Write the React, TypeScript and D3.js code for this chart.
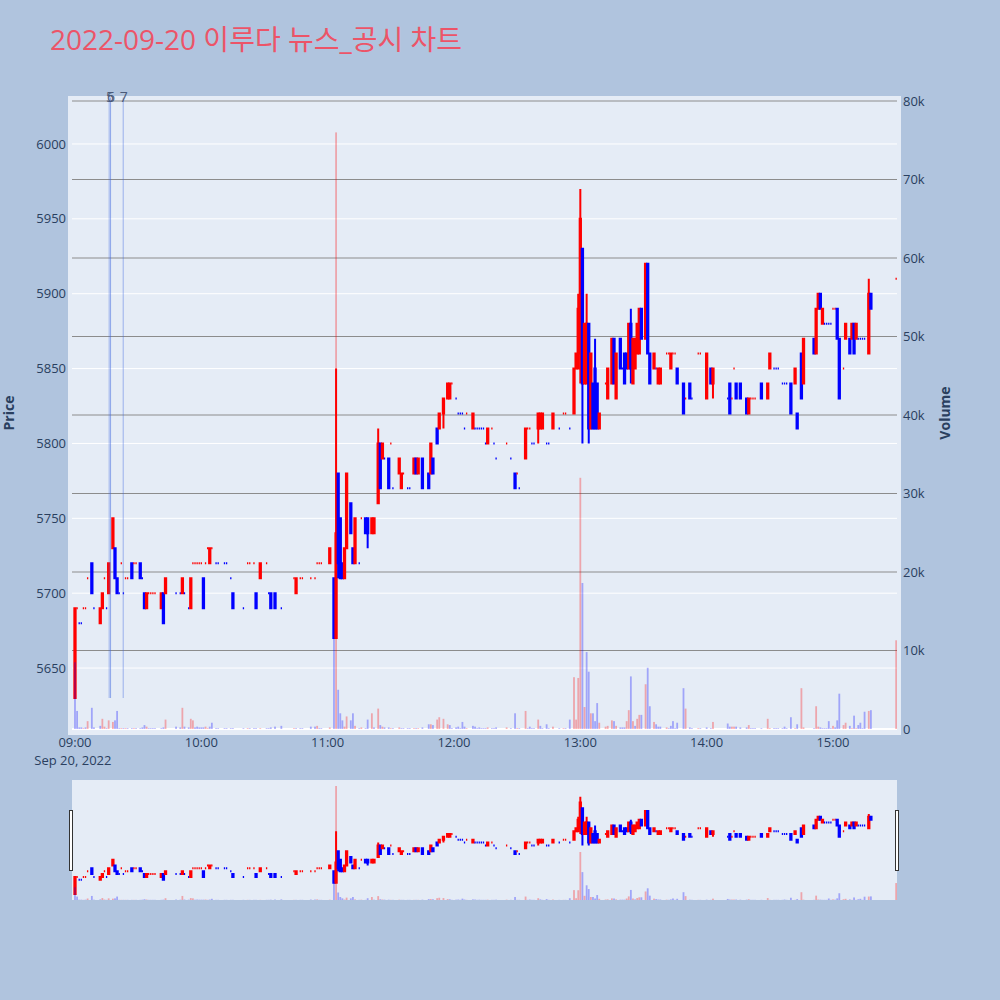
import { useMemo } from 'react';
import * as d3 from 'd3';

// rows: [minutes after 09:00, open, high, low, close, volume]
type Row = [number, number, number, number, number, number];

const session0900: Row[] = [
  [0, 5630, 5690, 5630, 5690, 8500], [1, 5690, 5690, 5690, 5690, 2300], [2, 5680, 5680, 5680, 5680, 200],
  [3, 5680, 5680, 5680, 5680, 200], [4, 5690, 5690, 5690, 5690, 100], [5, 5690, 5690, 5690, 5690, 200],
  [6, 5710, 5710, 5710, 5710, 1000], [8, 5720, 5720, 5700, 5700, 2700], [9, 5690, 5690, 5690, 5690, 200],
  [12, 5680, 5690, 5680, 5690, 400], [13, 5690, 5700, 5690, 5700, 1300], [14, 5710, 5710, 5710, 5710, 300],
  [15, 5690, 5690, 5690, 5690, 100], [16, 5700, 5720, 5700, 5720, 1100], [18, 5730, 5750, 5730, 5750, 900],
  [19, 5730, 5730, 5710, 5710, 1100], [20, 5710, 5710, 5700, 5700, 2300], [21, 5700, 5700, 5700, 5700, 100],
  [22, 5720, 5720, 5720, 5720, 100], [23, 5700, 5700, 5700, 5700, 100], [24, 5710, 5710, 5710, 5710, 100],
  [25, 5710, 5710, 5710, 5710, 100], [27, 5720, 5720, 5710, 5710, 100], [28, 5720, 5720, 5720, 5720, 100],
  [29, 5720, 5720, 5720, 5720, 100], [31, 5720, 5720, 5710, 5710, 100], [32, 5710, 5710, 5710, 5710, 200],
  [33, 5700, 5700, 5690, 5690, 500], [34, 5690, 5700, 5690, 5700, 300], [35, 5700, 5700, 5700, 5700, 100],
  [36, 5700, 5700, 5700, 5700, 100], [37, 5700, 5700, 5700, 5700, 100], [38, 5700, 5700, 5700, 5700, 100],
  [41, 5690, 5700, 5690, 5700, 100], [42, 5700, 5700, 5680, 5680, 200], [43, 5700, 5710, 5700, 5710, 1200],
  [48, 5700, 5700, 5700, 5700, 300], [50, 5700, 5700, 5700, 5700, 200], [51, 5700, 5710, 5700, 5710, 2700],
  [52, 5700, 5700, 5700, 5700, 300], [54, 5690, 5690, 5690, 5690, 200], [55, 5690, 5710, 5690, 5710, 1300],
  [56, 5720, 5720, 5720, 5720, 1100], [57, 5720, 5720, 5720, 5720, 200], [58, 5720, 5720, 5720, 5720, 300],
  [59, 5720, 5720, 5720, 5720, 200],
];

const session1000: Row[] = [
  [60, 5720, 5720, 5720, 5720, 200], [61, 5710, 5710, 5690, 5690, 200], [62, 5720, 5720, 5720, 5720, 300],
  [63, 5730, 5730, 5730, 5730, 100], [64, 5720, 5730, 5720, 5730, 300], [65, 5730, 5730, 5730, 5730, 800],
  [67, 5720, 5720, 5720, 5720, 100], [68, 5720, 5720, 5720, 5720, 100], [71, 5720, 5720, 5720, 5720, 100],
  [72, 5720, 5720, 5720, 5720, 100], [74, 5710, 5710, 5710, 5710, 100], [75, 5700, 5700, 5690, 5690, 100],
  [80, 5690, 5690, 5690, 5690, 100], [82, 5720, 5720, 5720, 5720, 100], [83, 5720, 5720, 5720, 5720, 100],
  [85, 5720, 5720, 5720, 5720, 100], [86, 5700, 5700, 5690, 5690, 100], [88, 5710, 5720, 5710, 5720, 100],
  [91, 5720, 5720, 5720, 5720, 100], [92, 5700, 5700, 5700, 5700, 100], [93, 5700, 5700, 5690, 5690, 200],
  [95, 5700, 5700, 5690, 5690, 300], [98, 5690, 5690, 5690, 5690, 400], [104, 5710, 5710, 5710, 5710, 100],
  [105, 5700, 5710, 5700, 5710, 100], [107, 5710, 5710, 5710, 5710, 100], [108, 5710, 5710, 5710, 5710, 100],
  [112, 5710, 5710, 5710, 5710, 300], [114, 5710, 5710, 5710, 5710, 300], [115, 5720, 5720, 5720, 5720, 400],
  [116, 5720, 5720, 5720, 5720, 100], [117, 5720, 5720, 5720, 5720, 100],
];

const session1100: Row[] = [
  [121, 5720, 5730, 5720, 5730, 200], [123, 5710, 5710, 5670, 5670, 11500], [124, 5670, 5850, 5670, 5740, 76000],
  [125, 5780, 5780, 5710, 5720, 5000], [126, 5750, 5750, 5710, 5710, 2000], [127, 5720, 5720, 5710, 5710, 1100],
  [128, 5710, 5730, 5710, 5730, 300], [129, 5730, 5780, 5730, 5780, 1600], [131, 5760, 5760, 5740, 5740, 1100],
  [132, 5730, 5730, 5720, 5720, 2000], [133, 5720, 5750, 5720, 5750, 400], [135, 5720, 5720, 5720, 5720, 100],
  [136, 5750, 5750, 5750, 5750, 200], [138, 5750, 5750, 5740, 5740, 100], [139, 5750, 5750, 5730, 5740, 1200],
  [141, 5740, 5750, 5740, 5750, 2000], [142, 5740, 5750, 5740, 5750, 200], [144, 5760, 5810, 5760, 5800, 2600],
  [145, 5800, 5800, 5770, 5770, 500], [146, 5790, 5800, 5790, 5800, 300], [147, 5790, 5790, 5790, 5790, 200],
  [149, 5790, 5790, 5770, 5770, 200], [150, 5800, 5800, 5800, 5800, 100], [151, 5770, 5770, 5770, 5770, 100],
  [154, 5780, 5790, 5780, 5790, 200], [155, 5770, 5780, 5770, 5780, 100], [156, 5780, 5780, 5780, 5780, 100],
  [158, 5770, 5770, 5770, 5770, 100], [159, 5770, 5770, 5770, 5770, 100], [161, 5780, 5790, 5780, 5790, 100],
  [162, 5790, 5790, 5780, 5780, 100], [163, 5780, 5790, 5780, 5790, 100], [165, 5790, 5790, 5770, 5770, 200],
  [168, 5780, 5780, 5770, 5770, 600], [169, 5780, 5800, 5780, 5800, 600], [170, 5790, 5790, 5780, 5780, 500],
  [172, 5810, 5810, 5800, 5800, 1200], [173, 5810, 5820, 5810, 5820, 1500], [175, 5820, 5830, 5810, 5830, 1300],
  [177, 5830, 5840, 5830, 5840, 600], [178, 5830, 5840, 5830, 5840, 500], [179, 5840, 5840, 5840, 5840, 100],
];

const session1200: Row[] = [
  [181, 5830, 5830, 5830, 5830, 200], [182, 5820, 5820, 5820, 5820, 300], [183, 5820, 5820, 5820, 5820, 100],
  [184, 5820, 5820, 5820, 5820, 900], [185, 5810, 5810, 5810, 5810, 300], [186, 5820, 5820, 5820, 5820, 100],
  [189, 5810, 5820, 5810, 5820, 400], [190, 5810, 5810, 5810, 5810, 300], [191, 5810, 5810, 5810, 5810, 100],
  [192, 5810, 5810, 5810, 5810, 200], [193, 5810, 5810, 5810, 5810, 100], [194, 5810, 5810, 5810, 5810, 100],
  [195, 5800, 5800, 5800, 5800, 100], [196, 5800, 5810, 5800, 5810, 200], [198, 5810, 5810, 5810, 5810, 100],
  [199, 5800, 5800, 5800, 5800, 100], [200, 5790, 5790, 5790, 5790, 200], [205, 5800, 5800, 5800, 5800, 200],
  [207, 5790, 5790, 5790, 5790, 100], [209, 5780, 5780, 5770, 5770, 2000], [210, 5780, 5780, 5780, 5780, 100],
  [211, 5770, 5770, 5770, 5770, 100], [214, 5790, 5810, 5790, 5810, 2300], [215, 5810, 5810, 5810, 5810, 100],
  [216, 5810, 5810, 5810, 5810, 300], [217, 5800, 5800, 5800, 5800, 100], [218, 5800, 5800, 5800, 5800, 100],
  [220, 5810, 5820, 5800, 5820, 1200], [221, 5810, 5820, 5810, 5820, 400], [222, 5810, 5820, 5810, 5820, 100],
  [224, 5800, 5800, 5800, 5800, 600], [225, 5800, 5800, 5800, 5800, 100], [227, 5810, 5820, 5810, 5820, 300],
  [230, 5810, 5810, 5810, 5810, 100], [232, 5820, 5820, 5820, 5820, 100], [233, 5820, 5820, 5820, 5820, 100],
  [235, 5810, 5810, 5810, 5810, 1200], [237, 5820, 5850, 5820, 5850, 6600], [238, 5850, 5860, 5850, 5860, 1200],
  [239, 5850, 5900, 5850, 5890, 6500],
];

const session1300: Row[] = [
  [240, 5860, 5970, 5840, 5950, 32000], [241, 5930, 5930, 5800, 5840, 18600], [242, 5840, 5880, 5840, 5880, 2800],
  [243, 5840, 5900, 5840, 5880, 9800], [244, 5880, 5880, 5800, 5810, 7300], [245, 5810, 5860, 5810, 5860, 2000],
  [246, 5840, 5840, 5810, 5810, 2000], [247, 5850, 5870, 5810, 5810, 1000], [248, 5840, 5840, 5810, 5810, 3300],
  [249, 5810, 5820, 5810, 5820, 800], [252, 5840, 5840, 5840, 5840, 300], [253, 5830, 5850, 5830, 5850, 400],
  [255, 5840, 5870, 5840, 5870, 1100], [256, 5870, 5870, 5840, 5840, 1000], [257, 5830, 5860, 5830, 5860, 400],
  [259, 5870, 5870, 5850, 5850, 200], [260, 5850, 5850, 5850, 5850, 200], [261, 5860, 5860, 5840, 5840, 200],
  [262, 5860, 5860, 5850, 5850, 1000], [263, 5850, 5880, 5850, 5880, 2400], [264, 5880, 5890, 5840, 5850, 6700],
  [265, 5840, 5870, 5840, 5870, 1000], [266, 5850, 5870, 5850, 5870, 400], [267, 5860, 5880, 5860, 5880, 1300],
  [268, 5860, 5890, 5860, 5890, 1800], [269, 5890, 5890, 5870, 5870, 1800], [271, 5870, 5920, 5870, 5920, 5700],
  [272, 5920, 5920, 5860, 5860, 7800], [273, 5860, 5860, 5840, 5840, 2900], [275, 5850, 5860, 5850, 5860, 900],
  [276, 5850, 5850, 5850, 5850, 600], [277, 5840, 5850, 5840, 5850, 300], [278, 5840, 5850, 5840, 5850, 300],
  [281, 5860, 5860, 5860, 5860, 200], [282, 5860, 5860, 5860, 5860, 100], [283, 5850, 5860, 5850, 5860, 400],
  [284, 5860, 5860, 5860, 5860, 1000], [285, 5860, 5860, 5860, 5860, 100], [286, 5850, 5850, 5840, 5840, 800],
  [289, 5840, 5840, 5820, 5820, 5200], [290, 5830, 5830, 5830, 5830, 2600], [292, 5840, 5840, 5830, 5830, 200],
  [293, 5830, 5830, 5830, 5830, 100], [296, 5860, 5860, 5860, 5860, 100], [297, 5860, 5860, 5860, 5860, 100],
];

const session1400: Row[] = [
  [300, 5830, 5860, 5830, 5860, 200], [302, 5850, 5850, 5840, 5840, 100], [303, 5840, 5850, 5830, 5850, 900],
  [310, 5830, 5830, 5830, 5830, 700], [311, 5840, 5840, 5820, 5820, 300], [312, 5830, 5830, 5830, 5830, 300],
  [313, 5850, 5850, 5850, 5850, 300], [314, 5840, 5840, 5830, 5830, 300], [316, 5840, 5840, 5830, 5830, 200],
  [319, 5830, 5830, 5820, 5820, 200], [320, 5820, 5830, 5820, 5830, 500], [321, 5830, 5830, 5830, 5830, 100],
  [322, 5830, 5830, 5830, 5830, 100], [323, 5830, 5830, 5830, 5830, 100], [326, 5840, 5840, 5830, 5830, 100],
  [329, 5830, 5840, 5830, 5840, 1300], [330, 5850, 5860, 5850, 5860, 100], [332, 5850, 5850, 5850, 5850, 100],
  [333, 5850, 5850, 5850, 5850, 100], [334, 5850, 5850, 5850, 5850, 100], [336, 5840, 5840, 5840, 5840, 100],
  [337, 5840, 5840, 5840, 5840, 300], [338, 5840, 5840, 5840, 5840, 100], [340, 5840, 5840, 5820, 5820, 1500],
  [342, 5840, 5850, 5840, 5850, 100], [343, 5820, 5820, 5810, 5810, 600], [345, 5860, 5860, 5830, 5830, 5200],
  [346, 5840, 5870, 5840, 5870, 200], [351, 5870, 5870, 5860, 5860, 100], [352, 5860, 5890, 5860, 5890, 2900],
  [353, 5890, 5900, 5890, 5900, 300], [354, 5900, 5900, 5890, 5890, 200], [355, 5880, 5890, 5880, 5890, 100],
  [356, 5880, 5880, 5880, 5880, 100], [357, 5880, 5880, 5880, 5880, 100], [358, 5880, 5880, 5880, 5880, 1000],
  [359, 5880, 5880, 5880, 5880, 100],
];

const session1500: Row[] = [
  [360, 5890, 5890, 5890, 5890, 400], [361, 5890, 5890, 5890, 5890, 200], [362, 5890, 5890, 5870, 5870, 1100],
  [363, 5870, 5870, 5830, 5830, 4500], [365, 5850, 5850, 5850, 5850, 500], [366, 5870, 5880, 5870, 5880, 800],
  [368, 5870, 5870, 5860, 5860, 400], [369, 5870, 5880, 5870, 5880, 100], [370, 5880, 5880, 5860, 5860, 1700],
  [371, 5870, 5880, 5870, 5880, 100], [372, 5870, 5870, 5870, 5870, 500], [373, 5870, 5870, 5870, 5870, 800],
  [374, 5870, 5870, 5870, 5870, 100], [375, 5870, 5870, 5870, 5870, 2200], [377, 5860, 5910, 5860, 5900, 2300],
  [378, 5900, 5900, 5890, 5890, 2400], [390, 5910, 5910, 5910, 5910, 11300],
];

// news markers (minute after 09:00, label)
const newsMinutes = [16.4, 16.9, 22.9];
const newsLabels = ['5', '6', '7'];
const newsPriceSpan = [5630, 6031];

const priceTicks = [5650, 5700, 5750, 5800, 5850, 5900, 5950, 6000];
const volumeTicks = [0, 10000, 20000, 30000, 40000, 50000, 60000, 70000, 80000];

const UP = '#ff0000';
const DOWN = '#0000ff';
const FONT = "'Open Sans', verdana, arial, sans-serif";
const AXIS = '#2a3f5f';

const t0 = new Date(2022, 8, 20, 9, 0).getTime();
const toDate = (m: number) => new Date(t0 + m * 60000);

export default function App() {
  const rows = [...session0900, ...session1000, ...session1100, ...session1200, ...session1300, ...session1400, ...session1500];

  const candles = useMemo(() => {
    let prevClose = NaN;
    let prevUp = true;
    return rows.map(([m, o, h, l, c, v]) => {
      // plotly: flat candles take direction from the previous close
      const up = c > o ? true : c < o ? false : c > prevClose ? true : c < prevClose ? false : prevUp;
      const volUp = c > prevClose;
      prevClose = c;
      prevUp = up;
      return { t: toDate(m), o, h, l, c, v, up, volUp };
    });
  }, []);

  const x = d3.scaleTime().domain([toDate(-1.42), toDate(390.4)]).range([72, 897]);
  const y = d3.scaleLinear().domain([5609.3, 6028.7]).range([729, 101]);
  const vy = d3.scaleLinear().domain([0, 80000]).range([729, 101]);
  const ys = y.copy().range([900, 780]);
  const vys = vy.copy().range([900, 780]);
  const hours = x.ticks(d3.timeHour.every(1)!);
  const fmt = d3.timeFormat('%H:%M');

  const candlePath = (d: typeof candles[number], yScale: d3.ScaleLinear<number, number>) => {
    const cx = x(d.t);
    const x0 = cx - 0.65;
    const x1 = cx + 0.65;
    const top = Math.min(yScale(d.o), yScale(d.c));
    const bot = Math.max(yScale(d.o), yScale(d.c));
    return `M${x0},${top}H${x1}V${bot}H${x0}Z M${cx},${top}V${yScale(d.h)} M${cx},${bot}V${yScale(d.l)}`;
  };

  const drawSeries = (yScale: d3.ScaleLinear<number, number>, vScale: d3.ScaleLinear<number, number>) => (
    <g>
      {candles.map((d, i) => (
        <path key={'c' + i} d={candlePath(d, yScale)}
          fill={d.up ? 'rgba(255,0,0,0.5)' : 'rgba(0,0,255,0.5)'}
          stroke={d.up ? UP : DOWN} strokeWidth={2} />
      ))}
      {candles.map((d, i) => (
        <rect key={'v' + i} x={x(d.t) - 0.9} width={1.8}
          y={vScale(d.v)} height={vScale(0) - vScale(d.v)}
          fill={d.volUp ? 'rgba(255,0,0,0.3)' : 'rgba(0,0,255,0.3)'} />
      ))}
    </g>
  );

  return (
    <svg width={1000} height={1000} style={{ position: 'absolute', left: 0, top: 0 }}
      fontFamily={FONT}>
      <rect width={1000} height={1000} fill="#b0c4de" />
      <text x={50} y={50} fontSize={28} fill="#ec5468"
        fontFamily="'Open Sans', 'Noto Sans CJK KR', sans-serif">2022-09-20 이루다 뉴스_공시 차트</text>

      {/* main plot */}
      <rect x={68} y={96} width={833} height={639} fill="#e5ecf6" />
      {priceTicks.map(p => (
        <line key={'pg' + p} x1={72} x2={897} y1={y(p)} y2={y(p)} stroke="#fff" strokeWidth={1} />
      ))}
      {volumeTicks.filter(v => v > 0).map(v => (
        <line key={'vg' + v} x1={72} x2={897} y1={vy(v)} y2={vy(v)} stroke="#8c8c8c" strokeWidth={1} />
      ))}
      <line x1={72} x2={897} y1={vy(0)} y2={vy(0)} stroke="#fff" strokeWidth={2} />

      <defs>
        <clipPath id="main-clip"><rect x={72} y={96} width={825} height={639} /></clipPath>
        <clipPath id="slider-clip"><rect x={72} y={780} width={825} height={120} /></clipPath>
      </defs>
      <g clipPath="url(#main-clip)">{drawSeries(y, vy)}</g>

      {/* news markers */}
      {newsMinutes.map((m, i) => (
        <g key={'n' + i}>
          <line x1={x(toDate(m))} x2={x(toDate(m))} y1={y(newsPriceSpan[0])} y2={y(newsPriceSpan[1])}
            stroke="royalblue" strokeOpacity={i === 0 ? 0.3 : 0.45} strokeWidth={i === 0 ? 2 : 1} />
          <text x={x(toDate(m)) + 0.5} y={102} fontSize={14} fill="#4a5a78" textAnchor="middle">{newsLabels[i]}</text>
        </g>
      ))}

      {/* axes */}
      {priceTicks.map(p => (
        <text key={'pt' + p} x={66} y={y(p)} dy="0.35em" fontSize={13} fill={AXIS} textAnchor="end">{p}</text>
      ))}
      {volumeTicks.map(v => (
        <text key={'vt' + v} x={903} y={vy(v)} dy="0.35em" fontSize={13} fill={AXIS}>
          {v === 0 ? '0' : `${v / 1000}k`}
        </text>
      ))}
      {hours.map(h => (
        <text key={'xt' + h.getTime()} x={x(h)} y={747} fontSize={13} fill={AXIS} textAnchor="middle">{fmt(h)}</text>
      ))}
      <text x={x(toDate(-1))} y={765} fontSize={13} fill={AXIS} textAnchor="middle">Sep 20, 2022</text>
      <text transform="translate(14,413) rotate(-90)" fontSize={14} fontWeight="bold" fill={AXIS} textAnchor="middle">Price</text>
      <text transform="translate(950,413) rotate(-90)" fontSize={14} fontWeight="bold" fill={AXIS} textAnchor="middle">Volume</text>

      {/* range slider */}
      <rect x={72} y={780} width={825} height={120} fill="#e5ecf6" />
      <g clipPath="url(#slider-clip)">{drawSeries(ys, vys)}</g>
      <rect x={69.5} y={810.5} width={3} height={60} fill="#fff" stroke="#333" strokeWidth={1} />
      <rect x={895.5} y={810.5} width={3} height={60} fill="#fff" stroke="#333" strokeWidth={1} />
    </svg>
  );
}
